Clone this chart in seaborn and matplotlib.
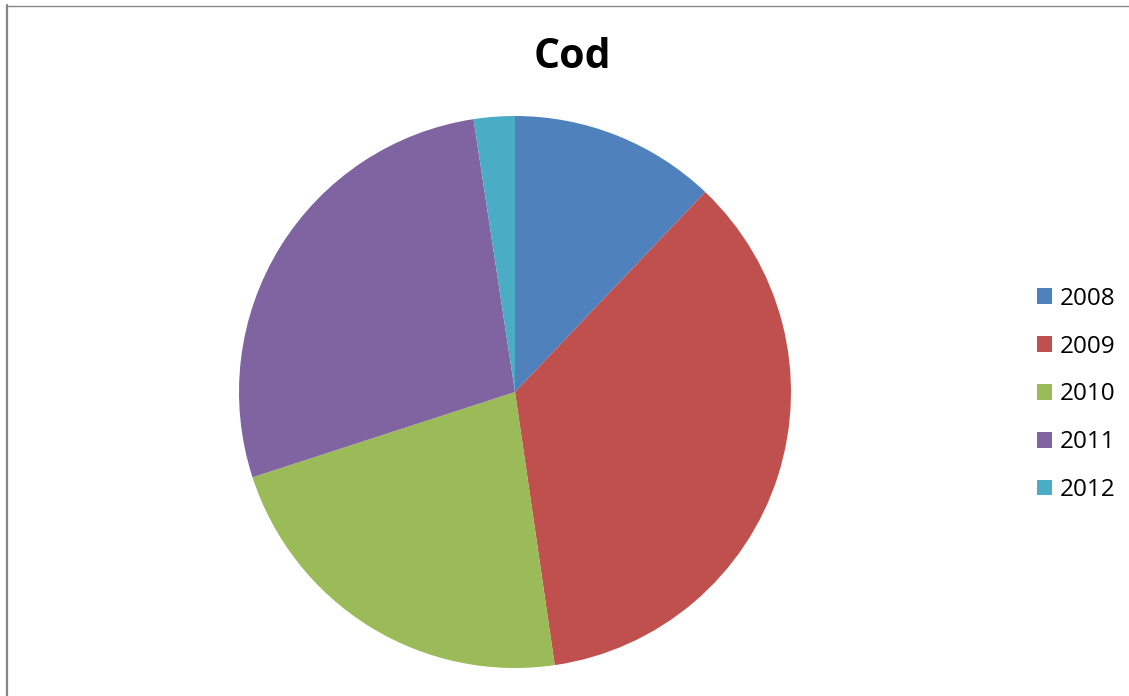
import matplotlib
matplotlib.use("Agg")
import matplotlib.pyplot as plt
from matplotlib.patches import Patch
from matplotlib.lines import Line2D
import seaborn as sns

years = ["2008", "2009", "2010", "2011", "2012"]
values = [12.1, 35.6, 22.3, 27.6, 2.4]
colors = ["#4F81BD", "#C0504D", "#9BBB59", "#8064A2", "#4BACC6"]
title = "Cod"

sns.set_theme(style="white")
plt.rcParams['font.family'] = ['Open Sans', 'DejaVu Sans']

W, H = 1129, 696
fig = plt.figure(figsize=(W / 100, H / 100), dpi=100)
fig.patch.set_facecolor("white")

cx, cy, r = 515, 392, 276
ax = fig.add_axes([(cx - r) / W, (H - cy - r) / H, 2 * r / W, 2 * r / H])
palette = sns.color_palette(colors)
ax.pie(values, colors=palette, startangle=90, counterclock=False,
       wedgeprops=dict(linewidth=0), radius=1)
ax.set_xlim(-1, 1)
ax.set_ylim(-1, 1)
ax.set_aspect("equal")
ax.axis("off")

fig.text(572 / W, 1 - 58 / H, title, ha="center", va="center",
         fontsize=29.5, fontweight="bold", color="black")

handles = [Patch(facecolor=c, edgecolor="none") for c in palette]
leg = fig.legend(handles, years, loc="center left",
                 bbox_to_anchor=(1037 / W, 1 - 394.5 / H),
                 frameon=False, fontsize=17.5, handlelength=0.62,
                 handleheight=0.62, handletextpad=0.3, labelspacing=0.98,
                 borderpad=0, borderaxespad=0, labelcolor="black")

# chart frame edges (top and left)
fig.add_artist(Line2D([6.5 / W, 6.5 / W], [0, 1 - 5 / H], transform=fig.transFigure,
                      color="#868686", linewidth=1.6))
fig.add_artist(Line2D([6 / W, 1], [1 - 5.5 / H, 1 - 5.5 / H], transform=fig.transFigure,
                      color="#868686", linewidth=1.0))

fig.savefig("out.png", dpi=100, facecolor="white")
